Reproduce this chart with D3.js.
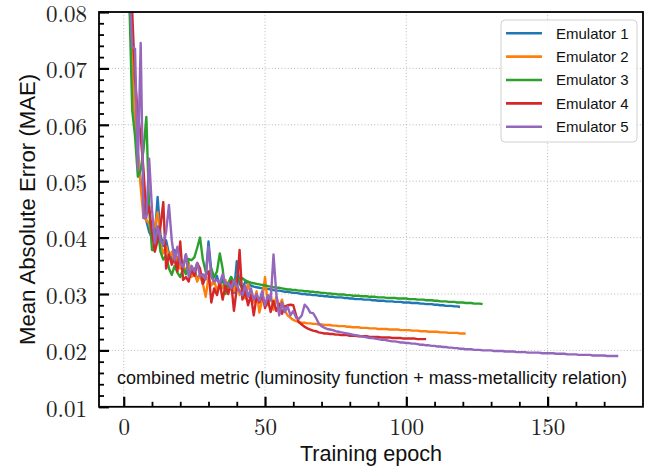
<!DOCTYPE html>
<html><head><meta charset="utf-8">
<script src="https://cdn.jsdelivr.net/npm/d3@7"></script>
<style>body{margin:0;background:#fff}</style>
</head><body>
<svg id="chart" width="661" height="471"></svg>
<script>
const seriesNames = ["Emulator 1","Emulator 2","Emulator 3","Emulator 4","Emulator 5"];
const seriesColors = ["#1f77b4","#ff7f0e","#2ca02c","#d62728","#9467bd"];
const xTicks = [0,50,100,150];
const yTicks = [0.01,0.02,0.03,0.04,0.05,0.06,0.07,0.08];
const yTickLabels = ["0.01","0.02","0.03","0.04","0.05","0.06","0.07","0.08"];

const emulator1 = [
0.118,0.098,0.083,0.070,0.061,0.055,0.050,0.046,0.043,0.041,
0.0400,0.0405,0.0472,0.0405,0.0385,0.0395,0.0372,0.0360,0.0378,0.0352,
0.0365,0.0345,0.0370,0.0342,0.0335,0.0345,0.0325,0.0335,0.0318,0.0330,
0.0393,0.0340,0.0318,0.0332,0.0312,0.0328,0.0305,0.0315,0.0330,0.0302,
0.0358,0.0318,0.0310,0.0322,0.0318,0.0315,0.0313,0.0312,0.0311,0.0310,
0.0309,0.0309,0.0308,0.0307,0.0306,0.0306,0.0305,0.0304,0.0304,0.0303,
0.0302,0.0302,0.0301,0.0300,0.0300,0.0299,0.0299,0.0298,0.0298,0.0297,
0.0297,0.0296,0.0296,0.0295,0.0295,0.0294,0.0294,0.0294,0.0293,0.0293,
0.0292,0.0292,0.0291,0.0291,0.0291,0.0290,0.0290,0.0290,0.0289,0.0289,
0.0288,0.0288,0.0288,0.0287,0.0287,0.0287,0.0286,0.0286,0.0286,0.0285,
0.0285,0.0285,0.0284,0.0284,0.0284,0.0283,0.0283,0.0282,0.0282,0.0282,
0.0281,0.0281,0.0280,0.0280,0.0279,0.0279,0.0279,0.0278,0.0278,0.0277];

const emulator2 = [
0.116,0.097,0.083,0.070,0.060,0.055,0.049,0.0435,0.0431,0.0425,
0.0400,0.0420,0.0445,0.0390,0.0372,0.0385,0.0365,0.0375,0.0355,0.0365,
0.0345,0.0352,0.0340,0.0355,0.0330,0.0340,0.0322,0.0335,0.0318,0.0295,
0.0330,0.0315,0.0325,0.0305,0.0320,0.0310,0.0325,0.0302,0.0315,0.0305,
0.0322,0.0298,0.0310,0.0292,0.0318,0.0300,0.0285,0.0305,0.0267,0.0290,
0.0330,0.0280,0.0300,0.0272,0.0295,0.0278,0.0290,0.0270,0.0262,0.0258,
0.0254,0.0252,0.0250,0.0249,0.0249,0.0248,0.0248,0.0247,0.0247,0.0246,
0.0246,0.0245,0.0245,0.0245,0.0244,0.0244,0.0243,0.0243,0.0243,0.0242,
0.0242,0.0241,0.0241,0.0241,0.0240,0.0240,0.0240,0.0239,0.0239,0.0239,
0.0238,0.0238,0.0238,0.0238,0.0237,0.0237,0.0237,0.0237,0.0236,0.0236,
0.0236,0.0236,0.0235,0.0235,0.0235,0.0234,0.0234,0.0234,0.0233,0.0233,
0.0233,0.0233,0.0232,0.0232,0.0232,0.0231,0.0231,0.0231,0.0231,0.0230,
0.0230,0.0230];

const emulator3 = [
0.112,0.096,0.082,0.0626,0.058,0.0508,0.052,0.0555,0.0614,0.045,
0.0378,0.0378,0.0419,0.0375,0.0361,0.0368,0.0345,0.0334,0.0350,0.0338,
0.0330,0.0345,0.0335,0.0362,0.0360,0.0365,0.0382,0.0400,0.0361,0.0340,
0.0335,0.0345,0.0330,0.0340,0.0372,0.0345,0.0300,0.0320,0.0330,0.0322,
0.0330,0.0325,0.0328,0.0324,0.0322,0.0320,0.0319,0.0318,0.0317,0.0316,
0.0315,0.0314,0.0313,0.0312,0.0311,0.0311,0.0310,0.0309,0.0308,0.0308,
0.0307,0.0307,0.0306,0.0306,0.0305,0.0305,0.0304,0.0304,0.0303,0.0303,
0.0302,0.0302,0.0301,0.0301,0.0300,0.0300,0.0299,0.0299,0.0299,0.0298,
0.0298,0.0297,0.0297,0.0297,0.0296,0.0296,0.0296,0.0295,0.0295,0.0295,
0.0294,0.0294,0.0294,0.0293,0.0293,0.0293,0.0293,0.0292,0.0292,0.0292,
0.0292,0.0291,0.0291,0.0291,0.0290,0.0290,0.0290,0.0289,0.0289,0.0289,
0.0288,0.0288,0.0287,0.0287,0.0287,0.0286,0.0286,0.0286,0.0285,0.0285,
0.0285,0.0284,0.0284,0.0284,0.0283,0.0283,0.0283,0.0282];

const emulator4 = [
0.125,0.105,0.090,0.080,0.068,0.062,0.058,0.052,0.044,0.0455,
0.0410,0.0375,0.0395,0.0420,0.0463,0.0345,0.0370,0.0352,0.0365,0.0340,
0.0393,0.0325,0.0330,0.0322,0.0345,0.0332,0.0355,0.0345,0.0318,0.0335,
0.0340,0.0285,0.0310,0.0298,0.0320,0.0290,0.0315,0.0300,0.0322,0.0270,
0.0310,0.0378,0.0290,0.0305,0.0280,0.0298,0.0262,0.0295,0.0285,0.0300,
0.0275,0.0290,0.0268,0.0288,0.0270,0.0282,0.0265,0.0278,0.0280,0.0281,
0.0280,0.0262,0.0250,0.0246,0.0242,0.0239,0.0237,0.0235,0.0234,0.0232,
0.0231,0.0230,0.0230,0.0229,0.0229,0.0228,0.0228,0.0227,0.0227,0.0227,
0.0226,0.0226,0.0226,0.0225,0.0225,0.0225,0.0225,0.0224,0.0224,0.0224,
0.0224,0.0223,0.0223,0.0223,0.0223,0.0222,0.0222,0.0222,0.0222,0.0221,
0.0221,0.0221,0.0221,0.0221,0.0220,0.0220,0.0220,0.0220];

const emulator5 = [
0.120,0.100,0.085,0.0738,0.0735,0.052,0.0745,0.0435,0.0435,0.054,
0.0450,0.0390,0.0420,0.0395,0.0388,0.0410,0.0458,0.0395,0.0360,0.0384,
0.0355,0.0348,0.0370,0.0330,0.0350,0.0340,0.0355,0.0332,0.0335,0.0326,
0.0384,0.0330,0.0322,0.0325,0.0320,0.0335,0.0318,0.0320,0.0310,0.0325,
0.0315,0.0305,0.0298,0.0315,0.0295,0.0310,0.0290,0.0300,0.0288,0.0305,
0.0280,0.0298,0.0288,0.0370,0.0300,0.0262,0.0285,0.0268,0.0278,0.0262,
0.0270,0.0258,0.0256,0.0262,0.0281,0.0276,0.0267,0.0266,0.0258,0.0248,
0.0243,0.0240,0.0238,0.0237,0.0236,0.0234,0.0233,0.0232,0.0231,0.0230,
0.0229,0.0228,0.0227,0.0226,0.0225,0.0224,0.0223,0.0222,0.0222,0.0221,
0.0220,0.0219,0.0219,0.0218,0.0217,0.0216,0.0216,0.0215,0.0214,0.0214,
0.0213,0.0213,0.0212,0.0212,0.0211,0.0210,0.0210,0.0209,0.0209,0.0208,
0.0208,0.0207,0.0207,0.0206,0.0206,0.0205,0.0205,0.0204,0.0204,0.0203,
0.0203,0.0202,0.0202,0.0202,0.0201,0.0201,0.0201,0.0200,0.0200,0.0200,
0.0200,0.0199,0.0199,0.0199,0.0199,0.0198,0.0198,0.0198,0.0198,0.0197,
0.0197,0.0197,0.0197,0.0196,0.0196,0.0196,0.0196,0.0196,0.0195,0.0195,
0.0195,0.0195,0.0195,0.0194,0.0194,0.0194,0.0194,0.0193,0.0193,0.0193,
0.0193,0.0192,0.0192,0.0192,0.0192,0.0192,0.0191,0.0191,0.0191,0.0191,
0.0191,0.0190,0.0190,0.0190,0.0190,0.0190];

const allSeries = [emulator1, emulator2, emulator3, emulator4, emulator5];

const L = 99, R = 643, T = 12, B = 406.8;
const x = d3.scaleLinear().domain([-8.75, 183.75]).range([L, R]);
const y = d3.scaleLinear().domain([0.01, 0.08]).range([B, T]);

const svg = d3.select("#chart");
svg.append("rect").attr("width",661).attr("height",471).attr("fill","#fff");

svg.append("defs").append("clipPath").attr("id","clip")
  .append("rect").attr("x",L).attr("y",T).attr("width",R-L).attr("height",B-T);

// grid
const grid = svg.append("g");
grid.selectAll("line.gx").data(xTicks).enter().append("line")
  .attr("x1",d=>x(d)).attr("x2",d=>x(d)).attr("y1",T).attr("y2",B)
  .attr("stroke","#b8b8b8").attr("stroke-width",1).attr("stroke-dasharray","1,2.2");
grid.selectAll("line.gy").data(yTicks.slice(1,-1)).enter().append("line")
  .attr("y1",d=>y(d)).attr("y2",d=>y(d)).attr("x1",L).attr("x2",R)
  .attr("stroke","#b8b8b8").attr("stroke-width",1).attr("stroke-dasharray","1,2.2");

// lines
const line = d3.line().x((d,i)=>x(i)).y(d=>y(d));
const lg = svg.append("g").attr("clip-path","url(#clip)");
allSeries.forEach((s,k)=>{
  lg.append("path").datum(s).attr("d",line)
    .attr("fill","none").attr("stroke",seriesColors[k])
    .attr("stroke-width",2.4).attr("stroke-linejoin","round");
});

// axes
const tickFont = "'Latin Modern Roman','CMU Serif','Liberation Serif',serif";
const yAxis = d3.axisLeft(y).tickValues(yTicks).tickFormat((d,i)=>yTickLabels[i]).tickSize(-10).tickPadding(12);
const ya = svg.append("g").attr("transform",`translate(${L},0)`).call(yAxis);
const yMinor = d3.range(0.01, 0.0801, 0.002).filter(v=>Math.abs(Math.round(v*100)-v*100)>1e-6);
svg.append("g").attr("transform",`translate(${L},0)`)
  .call(d3.axisLeft(y).tickValues(yMinor).tickSize(-5).tickFormat(""))
  .call(g=>g.select(".domain").remove())
  .selectAll("line").attr("stroke","#000").attr("stroke-width",1.8);

const xAxis = d3.axisBottom(x).tickValues(xTicks).tickFormat(d3.format("d")).tickSize(-10).tickPadding(13);
const xa = svg.append("g").attr("transform",`translate(0,${B})`).call(xAxis);
const xMinor = d3.range(10, 180, 10).filter(v=>v%50!==0);
svg.append("g").attr("transform",`translate(0,${B})`)
  .call(d3.axisBottom(x).tickValues(xMinor).tickSize(-5).tickFormat(""))
  .call(g=>g.select(".domain").remove())
  .selectAll("line").attr("stroke","#000").attr("stroke-width",1.8);

[ya, xa].forEach(g=>{
  g.select(".domain").remove();
  g.selectAll(".tick line").attr("stroke","#000").attr("stroke-width",2.2);
  g.selectAll(".tick text").attr("font-family",tickFont).attr("font-size",23).attr("fill","#222");
});
ya.selectAll(".tick text").attr("dy","0.4em");
xa.selectAll(".tick text").attr("dy","0.68em");

// frame
svg.append("rect").attr("x",L).attr("y",T).attr("width",R-L).attr("height",B-T)
  .attr("fill","none").attr("stroke","#000").attr("stroke-width",1.8);

// axis labels
const sans = "'Liberation Sans',Arial,sans-serif";
svg.append("text").attr("x",(L+R)/2).attr("y",461).attr("text-anchor","middle")
  .attr("font-family",sans).attr("font-size",21.6).attr("fill","#111").text("Training epoch");
svg.append("text").attr("transform",`translate(35,${(T+B)/2}) rotate(-90)`).attr("text-anchor","middle")
  .attr("font-family",sans).attr("font-size",22.2).attr("fill","#111").text("Mean Absolute Error (MAE)");

// annotation
svg.append("text").attr("x",117).attr("y",384)
  .attr("font-family",sans).attr("font-size",18).attr("fill","#111")
  .attr("textLength",510).attr("lengthAdjust","spacingAndGlyphs")
  .text("combined metric (luminosity function + mass-metallicity relation)");

// legend
const leg = svg.append("g");
leg.append("rect").attr("x",501).attr("y",20).attr("width",136).attr("height",122).attr("rx",4)
  .attr("fill","#fff").attr("fill-opacity",0.85).attr("stroke","#d0d0d0").attr("stroke-width",1);
seriesNames.forEach((n,k)=>{
  const yy = 33.3 + k*23.35;
  leg.append("line").attr("x1",506).attr("x2",542).attr("y1",yy).attr("y2",yy)
    .attr("stroke",seriesColors[k]).attr("stroke-width",2.6);
  leg.append("text").attr("x",556).attr("y",yy).attr("dy","0.36em")
    .attr("font-family",sans).attr("font-size",15).attr("fill","#111").text(n);
});
</script>
</body></html>
